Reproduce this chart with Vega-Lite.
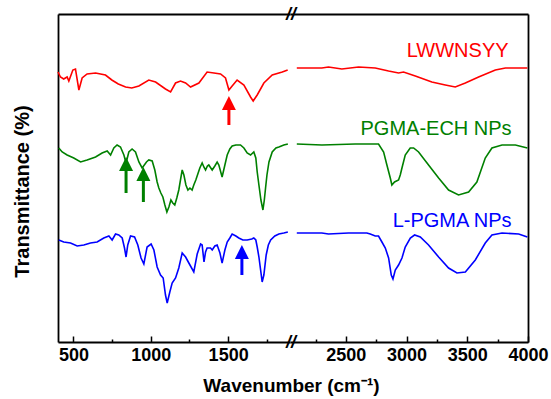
{
  "$schema": "https://vega.github.io/schema/vega-lite/v6.json",
  "background": "white",
  "padding": {"left": 12, "top": 6, "right": 2, "bottom": 4},
  "bounds": "flush",
  "spacing": 0,
  "config": {"view": {"stroke": null}, "axis": {"grid": false}},
  "datasets": {
    "spec": [
      {"s": "LWWNSYY", "wn": 400, "t": 270}, {"s": "LWWNSYY", "wn": 416, "t": 265}, {"s": "LWWNSYY", "wn": 437, "t": 263}, {"s": "LWWNSYY", "wn": 459, "t": 265}, {"s": "LWWNSYY", "wn": 470, "t": 261}, {"s": "LWWNSYY", "wn": 496, "t": 272}, {"s": "LWWNSYY", "wn": 513, "t": 273}, {"s": "LWWNSYY", "wn": 535, "t": 252}, {"s": "LWWNSYY", "wn": 556, "t": 264}, {"s": "LWWNSYY", "wn": 588, "t": 268}, {"s": "LWWNSYY", "wn": 643, "t": 269}, {"s": "LWWNSYY", "wn": 707, "t": 267}, {"s": "LWWNSYY", "wn": 748, "t": 262}, {"s": "LWWNSYY", "wn": 790, "t": 258}, {"s": "LWWNSYY", "wn": 837, "t": 255}, {"s": "LWWNSYY", "wn": 877, "t": 254}, {"s": "LWWNSYY", "wn": 923, "t": 256}, {"s": "LWWNSYY", "wn": 987, "t": 262}, {"s": "LWWNSYY", "wn": 1031, "t": 260}, {"s": "LWWNSYY", "wn": 1095, "t": 253}, {"s": "LWWNSYY", "wn": 1128, "t": 250}, {"s": "LWWNSYY", "wn": 1160, "t": 259}, {"s": "LWWNSYY", "wn": 1192, "t": 261}, {"s": "LWWNSYY", "wn": 1225, "t": 259}, {"s": "LWWNSYY", "wn": 1257, "t": 255}, {"s": "LWWNSYY", "wn": 1311, "t": 259}, {"s": "LWWNSYY", "wn": 1364, "t": 270}, {"s": "LWWNSYY", "wn": 1408, "t": 269}, {"s": "LWWNSYY", "wn": 1451, "t": 268}, {"s": "LWWNSYY", "wn": 1483, "t": 264}, {"s": "LWWNSYY", "wn": 1505, "t": 252}, {"s": "LWWNSYY", "wn": 1526, "t": 256}, {"s": "LWWNSYY", "wn": 1558, "t": 262}, {"s": "LWWNSYY", "wn": 1602, "t": 257}, {"s": "LWWNSYY", "wn": 1645, "t": 245}, {"s": "LWWNSYY", "wn": 1662, "t": 241}, {"s": "LWWNSYY", "wn": 1688, "t": 247}, {"s": "LWWNSYY", "wn": 1731, "t": 259}, {"s": "LWWNSYY", "wn": 1785, "t": 267}, {"s": "LWWNSYY", "wn": 1850, "t": 270}, {"s": "LWWNSYY", "wn": 1885, "t": 272},
      {"s": "LWWNSYY", "wn": 2096, "t": 274}, {"s": "LWWNSYY", "wn": 2302, "t": 274}, {"s": "LWWNSYY", "wn": 2357, "t": 275}, {"s": "LWWNSYY", "wn": 2467, "t": 273}, {"s": "LWWNSYY", "wn": 2605, "t": 275}, {"s": "LWWNSYY", "wn": 2742, "t": 274}, {"s": "LWWNSYY", "wn": 2852, "t": 271}, {"s": "LWWNSYY", "wn": 2934, "t": 269}, {"s": "LWWNSYY", "wn": 2975, "t": 270}, {"s": "LWWNSYY", "wn": 3072, "t": 266}, {"s": "LWWNSYY", "wn": 3208, "t": 260}, {"s": "LWWNSYY", "wn": 3319, "t": 257}, {"s": "LWWNSYY", "wn": 3401, "t": 255}, {"s": "LWWNSYY", "wn": 3484, "t": 259}, {"s": "LWWNSYY", "wn": 3593, "t": 265}, {"s": "LWWNSYY", "wn": 3731, "t": 272}, {"s": "LWWNSYY", "wn": 3814, "t": 274}, {"s": "LWWNSYY", "wn": 3995, "t": 274},

      {"s": "PGMA-ECH NPs", "wn": 405, "t": 194}, {"s": "PGMA-ECH NPs", "wn": 427, "t": 190}, {"s": "PGMA-ECH NPs", "wn": 459, "t": 187}, {"s": "PGMA-ECH NPs", "wn": 502, "t": 184}, {"s": "PGMA-ECH NPs", "wn": 546, "t": 180}, {"s": "PGMA-ECH NPs", "wn": 588, "t": 182}, {"s": "PGMA-ECH NPs", "wn": 643, "t": 185}, {"s": "PGMA-ECH NPs", "wn": 685, "t": 189}, {"s": "PGMA-ECH NPs", "wn": 718, "t": 191}, {"s": "PGMA-ECH NPs", "wn": 740, "t": 187}, {"s": "PGMA-ECH NPs", "wn": 761, "t": 194}, {"s": "PGMA-ECH NPs", "wn": 782, "t": 197}, {"s": "PGMA-ECH NPs", "wn": 804, "t": 195}, {"s": "PGMA-ECH NPs", "wn": 826, "t": 187}, {"s": "PGMA-ECH NPs", "wn": 840, "t": 179}, {"s": "PGMA-ECH NPs", "wn": 858, "t": 190}, {"s": "PGMA-ECH NPs", "wn": 879, "t": 193}, {"s": "PGMA-ECH NPs", "wn": 901, "t": 190}, {"s": "PGMA-ECH NPs", "wn": 923, "t": 180}, {"s": "PGMA-ECH NPs", "wn": 944, "t": 174}, {"s": "PGMA-ECH NPs", "wn": 972, "t": 180}, {"s": "PGMA-ECH NPs", "wn": 987, "t": 182}, {"s": "PGMA-ECH NPs", "wn": 1009, "t": 181}, {"s": "PGMA-ECH NPs", "wn": 1026, "t": 172}, {"s": "PGMA-ECH NPs", "wn": 1041, "t": 160}, {"s": "PGMA-ECH NPs", "wn": 1052, "t": 154}, {"s": "PGMA-ECH NPs", "wn": 1065, "t": 149}, {"s": "PGMA-ECH NPs", "wn": 1078, "t": 145}, {"s": "PGMA-ECH NPs", "wn": 1091, "t": 137}, {"s": "PGMA-ECH NPs", "wn": 1104, "t": 130}, {"s": "PGMA-ECH NPs", "wn": 1117, "t": 135}, {"s": "PGMA-ECH NPs", "wn": 1130, "t": 142}, {"s": "PGMA-ECH NPs", "wn": 1142, "t": 139}, {"s": "PGMA-ECH NPs", "wn": 1155, "t": 137}, {"s": "PGMA-ECH NPs", "wn": 1168, "t": 144}, {"s": "PGMA-ECH NPs", "wn": 1181, "t": 152}, {"s": "PGMA-ECH NPs", "wn": 1194, "t": 164}, {"s": "PGMA-ECH NPs", "wn": 1203, "t": 172}, {"s": "PGMA-ECH NPs", "wn": 1214, "t": 167}, {"s": "PGMA-ECH NPs", "wn": 1227, "t": 157}, {"s": "PGMA-ECH NPs", "wn": 1240, "t": 152}, {"s": "PGMA-ECH NPs", "wn": 1253, "t": 154}, {"s": "PGMA-ECH NPs", "wn": 1267, "t": 152}, {"s": "PGMA-ECH NPs", "wn": 1278, "t": 157}, {"s": "PGMA-ECH NPs", "wn": 1291, "t": 162}, {"s": "PGMA-ECH NPs", "wn": 1304, "t": 168}, {"s": "PGMA-ECH NPs", "wn": 1317, "t": 174}, {"s": "PGMA-ECH NPs", "wn": 1332, "t": 179}, {"s": "PGMA-ECH NPs", "wn": 1343, "t": 175}, {"s": "PGMA-ECH NPs", "wn": 1354, "t": 172}, {"s": "PGMA-ECH NPs", "wn": 1366, "t": 176}, {"s": "PGMA-ECH NPs", "wn": 1375, "t": 177}, {"s": "PGMA-ECH NPs", "wn": 1388, "t": 174}, {"s": "PGMA-ECH NPs", "wn": 1397, "t": 172}, {"s": "PGMA-ECH NPs", "wn": 1414, "t": 176}, {"s": "PGMA-ECH NPs", "wn": 1429, "t": 180}, {"s": "PGMA-ECH NPs", "wn": 1440, "t": 177}, {"s": "PGMA-ECH NPs", "wn": 1461, "t": 165}, {"s": "PGMA-ECH NPs", "wn": 1479, "t": 177}, {"s": "PGMA-ECH NPs", "wn": 1494, "t": 187}, {"s": "PGMA-ECH NPs", "wn": 1511, "t": 193}, {"s": "PGMA-ECH NPs", "wn": 1526, "t": 196}, {"s": "PGMA-ECH NPs", "wn": 1550, "t": 197}, {"s": "PGMA-ECH NPs", "wn": 1580, "t": 197}, {"s": "PGMA-ECH NPs", "wn": 1602, "t": 194}, {"s": "PGMA-ECH NPs", "wn": 1623, "t": 189}, {"s": "PGMA-ECH NPs", "wn": 1645, "t": 187}, {"s": "PGMA-ECH NPs", "wn": 1666, "t": 190}, {"s": "PGMA-ECH NPs", "wn": 1679, "t": 184}, {"s": "PGMA-ECH NPs", "wn": 1688, "t": 170}, {"s": "PGMA-ECH NPs", "wn": 1699, "t": 157}, {"s": "PGMA-ECH NPs", "wn": 1712, "t": 142}, {"s": "PGMA-ECH NPs", "wn": 1725, "t": 132}, {"s": "PGMA-ECH NPs", "wn": 1734, "t": 142}, {"s": "PGMA-ECH NPs", "wn": 1742, "t": 154}, {"s": "PGMA-ECH NPs", "wn": 1751, "t": 167}, {"s": "PGMA-ECH NPs", "wn": 1764, "t": 180}, {"s": "PGMA-ECH NPs", "wn": 1785, "t": 190}, {"s": "PGMA-ECH NPs", "wn": 1809, "t": 194}, {"s": "PGMA-ECH NPs", "wn": 1828, "t": 195}, {"s": "PGMA-ECH NPs", "wn": 1860, "t": 197}, {"s": "PGMA-ECH NPs", "wn": 1886, "t": 198},
      {"s": "PGMA-ECH NPs", "wn": 2096, "t": 198}, {"s": "PGMA-ECH NPs", "wn": 2303, "t": 197}, {"s": "PGMA-ECH NPs", "wn": 2577, "t": 198}, {"s": "PGMA-ECH NPs", "wn": 2769, "t": 198}, {"s": "PGMA-ECH NPs", "wn": 2811, "t": 190}, {"s": "PGMA-ECH NPs", "wn": 2838, "t": 177}, {"s": "PGMA-ECH NPs", "wn": 2866, "t": 164}, {"s": "PGMA-ECH NPs", "wn": 2879, "t": 157}, {"s": "PGMA-ECH NPs", "wn": 2901, "t": 160}, {"s": "PGMA-ECH NPs", "wn": 2934, "t": 162}, {"s": "PGMA-ECH NPs", "wn": 2948, "t": 167}, {"s": "PGMA-ECH NPs", "wn": 2962, "t": 174}, {"s": "PGMA-ECH NPs", "wn": 2989, "t": 187}, {"s": "PGMA-ECH NPs", "wn": 3030, "t": 194}, {"s": "PGMA-ECH NPs", "wn": 3058, "t": 194}, {"s": "PGMA-ECH NPs", "wn": 3099, "t": 190}, {"s": "PGMA-ECH NPs", "wn": 3181, "t": 177}, {"s": "PGMA-ECH NPs", "wn": 3264, "t": 164}, {"s": "PGMA-ECH NPs", "wn": 3346, "t": 152}, {"s": "PGMA-ECH NPs", "wn": 3428, "t": 147}, {"s": "PGMA-ECH NPs", "wn": 3511, "t": 150}, {"s": "PGMA-ECH NPs", "wn": 3579, "t": 160}, {"s": "PGMA-ECH NPs", "wn": 3648, "t": 184}, {"s": "PGMA-ECH NPs", "wn": 3703, "t": 194}, {"s": "PGMA-ECH NPs", "wn": 3786, "t": 197}, {"s": "PGMA-ECH NPs", "wn": 3896, "t": 197}, {"s": "PGMA-ECH NPs", "wn": 3995, "t": 194},

      {"s": "L-PGMA NPs", "wn": 405, "t": 102}, {"s": "L-PGMA NPs", "wn": 437, "t": 100}, {"s": "L-PGMA NPs", "wn": 481, "t": 99}, {"s": "L-PGMA NPs", "wn": 524, "t": 96}, {"s": "L-PGMA NPs", "wn": 567, "t": 97}, {"s": "L-PGMA NPs", "wn": 610, "t": 99}, {"s": "L-PGMA NPs", "wn": 653, "t": 100}, {"s": "L-PGMA NPs", "wn": 696, "t": 104}, {"s": "L-PGMA NPs", "wn": 729, "t": 106}, {"s": "L-PGMA NPs", "wn": 750, "t": 102}, {"s": "L-PGMA NPs", "wn": 772, "t": 108}, {"s": "L-PGMA NPs", "wn": 793, "t": 107}, {"s": "L-PGMA NPs", "wn": 815, "t": 104}, {"s": "L-PGMA NPs", "wn": 830, "t": 94}, {"s": "L-PGMA NPs", "wn": 840, "t": 85}, {"s": "L-PGMA NPs", "wn": 851, "t": 97}, {"s": "L-PGMA NPs", "wn": 869, "t": 106}, {"s": "L-PGMA NPs", "wn": 895, "t": 105}, {"s": "L-PGMA NPs", "wn": 916, "t": 97}, {"s": "L-PGMA NPs", "wn": 937, "t": 84}, {"s": "L-PGMA NPs", "wn": 955, "t": 78}, {"s": "L-PGMA NPs", "wn": 976, "t": 95}, {"s": "L-PGMA NPs", "wn": 1002, "t": 98}, {"s": "L-PGMA NPs", "wn": 1020, "t": 92}, {"s": "L-PGMA NPs", "wn": 1041, "t": 75}, {"s": "L-PGMA NPs", "wn": 1063, "t": 67}, {"s": "L-PGMA NPs", "wn": 1080, "t": 64}, {"s": "L-PGMA NPs", "wn": 1095, "t": 47}, {"s": "L-PGMA NPs", "wn": 1106, "t": 39}, {"s": "L-PGMA NPs", "wn": 1123, "t": 50}, {"s": "L-PGMA NPs", "wn": 1138, "t": 59}, {"s": "L-PGMA NPs", "wn": 1160, "t": 64}, {"s": "L-PGMA NPs", "wn": 1181, "t": 74}, {"s": "L-PGMA NPs", "wn": 1203, "t": 89}, {"s": "L-PGMA NPs", "wn": 1225, "t": 85}, {"s": "L-PGMA NPs", "wn": 1246, "t": 79}, {"s": "L-PGMA NPs", "wn": 1278, "t": 70}, {"s": "L-PGMA NPs", "wn": 1300, "t": 88}, {"s": "L-PGMA NPs", "wn": 1322, "t": 98}, {"s": "L-PGMA NPs", "wn": 1332, "t": 97}, {"s": "L-PGMA NPs", "wn": 1344, "t": 80}, {"s": "L-PGMA NPs", "wn": 1354, "t": 90}, {"s": "L-PGMA NPs", "wn": 1364, "t": 94}, {"s": "L-PGMA NPs", "wn": 1386, "t": 94}, {"s": "L-PGMA NPs", "wn": 1397, "t": 92}, {"s": "L-PGMA NPs", "wn": 1414, "t": 96}, {"s": "L-PGMA NPs", "wn": 1429, "t": 97}, {"s": "L-PGMA NPs", "wn": 1447, "t": 89}, {"s": "L-PGMA NPs", "wn": 1461, "t": 79}, {"s": "L-PGMA NPs", "wn": 1479, "t": 92}, {"s": "L-PGMA NPs", "wn": 1494, "t": 100}, {"s": "L-PGMA NPs", "wn": 1511, "t": 104}, {"s": "L-PGMA NPs", "wn": 1526, "t": 108}, {"s": "L-PGMA NPs", "wn": 1550, "t": 106}, {"s": "L-PGMA NPs", "wn": 1569, "t": 104}, {"s": "L-PGMA NPs", "wn": 1595, "t": 102}, {"s": "L-PGMA NPs", "wn": 1623, "t": 102}, {"s": "L-PGMA NPs", "wn": 1653, "t": 103}, {"s": "L-PGMA NPs", "wn": 1666, "t": 104}, {"s": "L-PGMA NPs", "wn": 1679, "t": 102}, {"s": "L-PGMA NPs", "wn": 1688, "t": 95}, {"s": "L-PGMA NPs", "wn": 1699, "t": 85}, {"s": "L-PGMA NPs", "wn": 1710, "t": 72}, {"s": "L-PGMA NPs", "wn": 1720, "t": 60}, {"s": "L-PGMA NPs", "wn": 1731, "t": 67}, {"s": "L-PGMA NPs", "wn": 1746, "t": 87}, {"s": "L-PGMA NPs", "wn": 1760, "t": 97}, {"s": "L-PGMA NPs", "wn": 1775, "t": 102}, {"s": "L-PGMA NPs", "wn": 1802, "t": 106}, {"s": "L-PGMA NPs", "wn": 1828, "t": 108}, {"s": "L-PGMA NPs", "wn": 1860, "t": 109}, {"s": "L-PGMA NPs", "wn": 1886, "t": 110},
      {"s": "L-PGMA NPs", "wn": 2096, "t": 109}, {"s": "L-PGMA NPs", "wn": 2302, "t": 109}, {"s": "L-PGMA NPs", "wn": 2357, "t": 108}, {"s": "L-PGMA NPs", "wn": 2522, "t": 109}, {"s": "L-PGMA NPs", "wn": 2673, "t": 109}, {"s": "L-PGMA NPs", "wn": 2701, "t": 108}, {"s": "L-PGMA NPs", "wn": 2742, "t": 106}, {"s": "L-PGMA NPs", "wn": 2769, "t": 106}, {"s": "L-PGMA NPs", "wn": 2797, "t": 100}, {"s": "L-PGMA NPs", "wn": 2825, "t": 94}, {"s": "L-PGMA NPs", "wn": 2852, "t": 84}, {"s": "L-PGMA NPs", "wn": 2874, "t": 67}, {"s": "L-PGMA NPs", "wn": 2888, "t": 63}, {"s": "L-PGMA NPs", "wn": 2907, "t": 72}, {"s": "L-PGMA NPs", "wn": 2934, "t": 77}, {"s": "L-PGMA NPs", "wn": 2962, "t": 84}, {"s": "L-PGMA NPs", "wn": 2989, "t": 95}, {"s": "L-PGMA NPs", "wn": 3031, "t": 104}, {"s": "L-PGMA NPs", "wn": 3066, "t": 107}, {"s": "L-PGMA NPs", "wn": 3113, "t": 105}, {"s": "L-PGMA NPs", "wn": 3181, "t": 97}, {"s": "L-PGMA NPs", "wn": 3264, "t": 85}, {"s": "L-PGMA NPs", "wn": 3346, "t": 74}, {"s": "L-PGMA NPs", "wn": 3415, "t": 69}, {"s": "L-PGMA NPs", "wn": 3484, "t": 70}, {"s": "L-PGMA NPs", "wn": 3566, "t": 82}, {"s": "L-PGMA NPs", "wn": 3648, "t": 99}, {"s": "L-PGMA NPs", "wn": 3703, "t": 107}, {"s": "L-PGMA NPs", "wn": 3786, "t": 109}, {"s": "L-PGMA NPs", "wn": 3923, "t": 108}, {"s": "L-PGMA NPs", "wn": 3995, "t": 105}
    ],
    "arrows": [
      {"s": "LWWNSYY", "wn": 1505, "tail": 217, "head": 239},
      {"s": "PGMA-ECH NPs", "wn": 840, "tail": 149, "head": 178},
      {"s": "PGMA-ECH NPs", "wn": 952, "tail": 140, "head": 168},
      {"s": "L-PGMA NPs", "wn": 1589, "tail": 67, "head": 90}
    ],
    "labels": [
      {"s": "LWWNSYY", "wn": 3840, "t": 285},
      {"s": "PGMA-ECH NPs", "wn": 3865, "t": 207},
      {"s": "L-PGMA NPs", "wn": 3865, "t": 115}
    ],
    "breaks": [
      {"wn": 1900, "t": 0},
      {"wn": 1900, "t": 328}
    ]
  },
  "hconcat": [
    {
      "width": 232,
      "height": 328,
      "layer": [
        {
          "data": {"name": "spec"},
          "transform": [{"filter": "datum.wn < 1950"}],
          "mark": {"type": "line", "strokeWidth": 1.6},
          "encoding": {
            "x": {
              "field": "wn", "type": "quantitative",
              "scale": {"domain": [400, 1900], "nice": false, "zero": false},
              "axis": {
                "orient": "bottom",
                "values": [500, 750, 1000, 1250, 1500, 1750],
                "format": "d",
                "labelExpr": "datum.value % 500 === 0 ? datum.label : ''",
                "tickSize": {"condition": {"test": "datum.value % 500 === 0", "value": -6}, "value": -3},
                "tickColor": "black", "tickWidth": 1.5,
                "domainColor": "black", "domainWidth": 1.8,
                "labelFont": "Liberation Sans", "labelFontWeight": "bold", "labelFontSize": 18, "labelColor": "black",
                "labelPadding": 10, "labelFlush": false,
                "title": "Wavenumber (cm⁻¹)",
                "titleFont": "Liberation Sans", "titleFontWeight": "bold", "titleFontSize": 19, "titleColor": "black",
                "titleX": 233, "titleY": 34, "titleAlign": "center", "titleBaseline": "top"
              }
            },
            "y": {
              "field": "t", "type": "quantitative",
              "scale": {"domain": [0, 328], "nice": false, "zero": false},
              "axis": {
                "orient": "left", "ticks": false, "labels": false,
                "domainColor": "black", "domainWidth": 1.8,
                "title": "Transmittance (%)",
                "titleFont": "Liberation Sans", "titleFontWeight": "bold", "titleFontSize": 20, "titleColor": "black",
                "titlePadding": 26, "titleY": 177
              }
            },
            "color": {
              "field": "s", "type": "nominal",
              "scale": {"domain": ["LWWNSYY", "PGMA-ECH NPs", "L-PGMA NPs"], "range": ["#ff0000", "#008000", "#0000ff"]},
              "legend": null
            }
          }
        },
        {
          "data": {"name": "arrows"},
          "transform": [{"filter": "datum.wn < 1950"}],
          "mark": {"type": "rule", "strokeWidth": 3},
          "encoding": {
            "x": {
              "field": "wn", "type": "quantitative",
              "scale": {"domain": [400, 1900], "nice": false, "zero": false},
              "axis": {"orient": "top", "ticks": false, "labels": false, "title": null, "domainColor": "black", "domainWidth": 1.8}
            },
            "y": {"field": "tail", "type": "quantitative", "axis": null},
            "y2": {"field": "head"},
            "color": {"field": "s", "type": "nominal", "legend": null}
          }
        },
        {
          "data": {"name": "arrows"},
          "transform": [{"filter": "datum.wn < 1950"}],
          "mark": {"type": "point", "shape": "M0,-1L1,1L-1,1Z", "filled": true, "opacity": 1, "size": 196},
          "encoding": {
            "x": {"field": "wn", "type": "quantitative", "axis": null},
            "y": {"field": "head", "type": "quantitative", "axis": null},
            "color": {"field": "s", "type": "nominal", "legend": null}
          }
        },
        {
          "data": {"name": "breaks"},
          "mark": {"type": "text", "text": "//", "font": "Liberation Sans", "fontSize": 18, "fontStyle": "italic", "fontWeight": "bold", "align": "center", "baseline": "middle", "color": "black", "dx": 1, "dy": 1},
          "encoding": {
            "x": {"field": "wn", "type": "quantitative", "axis": null},
            "y": {"field": "t", "type": "quantitative", "axis": null}
          }
        }
      ],
      "resolve": {"axis": {"x": "independent", "y": "independent"}}
    },
    {
      "width": 238,
      "height": 328,
      "layer": [
        {
          "data": {"name": "spec"},
          "transform": [{"filter": "datum.wn > 1950"}],
          "mark": {"type": "line", "strokeWidth": 1.6},
          "encoding": {
            "x": {
              "field": "wn", "type": "quantitative",
              "scale": {"domain": [2040, 4000], "nice": false, "zero": false},
              "axis": {
                "orient": "bottom",
                "values": [2250, 2500, 2750, 3000, 3250, 3500, 3750, 4000],
                "format": "d",
                "labelExpr": "datum.value % 500 === 0 ? datum.label : ''",
                "tickSize": {"condition": {"test": "datum.value % 500 === 0", "value": -6}, "value": -3},
                "tickColor": "black", "tickWidth": 1.5,
                "domainColor": "black", "domainWidth": 1.8,
                "labelFont": "Liberation Sans", "labelFontWeight": "bold", "labelFontSize": 18, "labelColor": "black",
                "labelPadding": 10, "labelFlush": false,
                "title": null
              }
            },
            "y": {
              "field": "t", "type": "quantitative",
              "scale": {"domain": [0, 328], "nice": false, "zero": false},
              "axis": {"orient": "right", "ticks": false, "labels": false, "title": null, "domainColor": "black", "domainWidth": 1.8}
            },
            "color": {
              "field": "s", "type": "nominal",
              "scale": {"domain": ["LWWNSYY", "PGMA-ECH NPs", "L-PGMA NPs"], "range": ["#ff0000", "#008000", "#0000ff"]},
              "legend": null
            }
          }
        },
        {
          "data": {"name": "labels"},
          "mark": {"type": "text", "font": "Liberation Sans", "fontSize": 20, "align": "right", "baseline": "alphabetic"},
          "encoding": {
            "x": {
              "field": "wn", "type": "quantitative",
              "scale": {"domain": [2040, 4000], "nice": false, "zero": false},
              "axis": {"orient": "top", "ticks": false, "labels": false, "title": null, "domainColor": "black", "domainWidth": 1.8}
            },
            "y": {"field": "t", "type": "quantitative", "axis": null},
            "text": {"field": "s"},
            "color": {"field": "s", "type": "nominal", "legend": null}
          }
        }
      ],
      "resolve": {"axis": {"x": "independent", "y": "independent"}}
    }
  ]
}
